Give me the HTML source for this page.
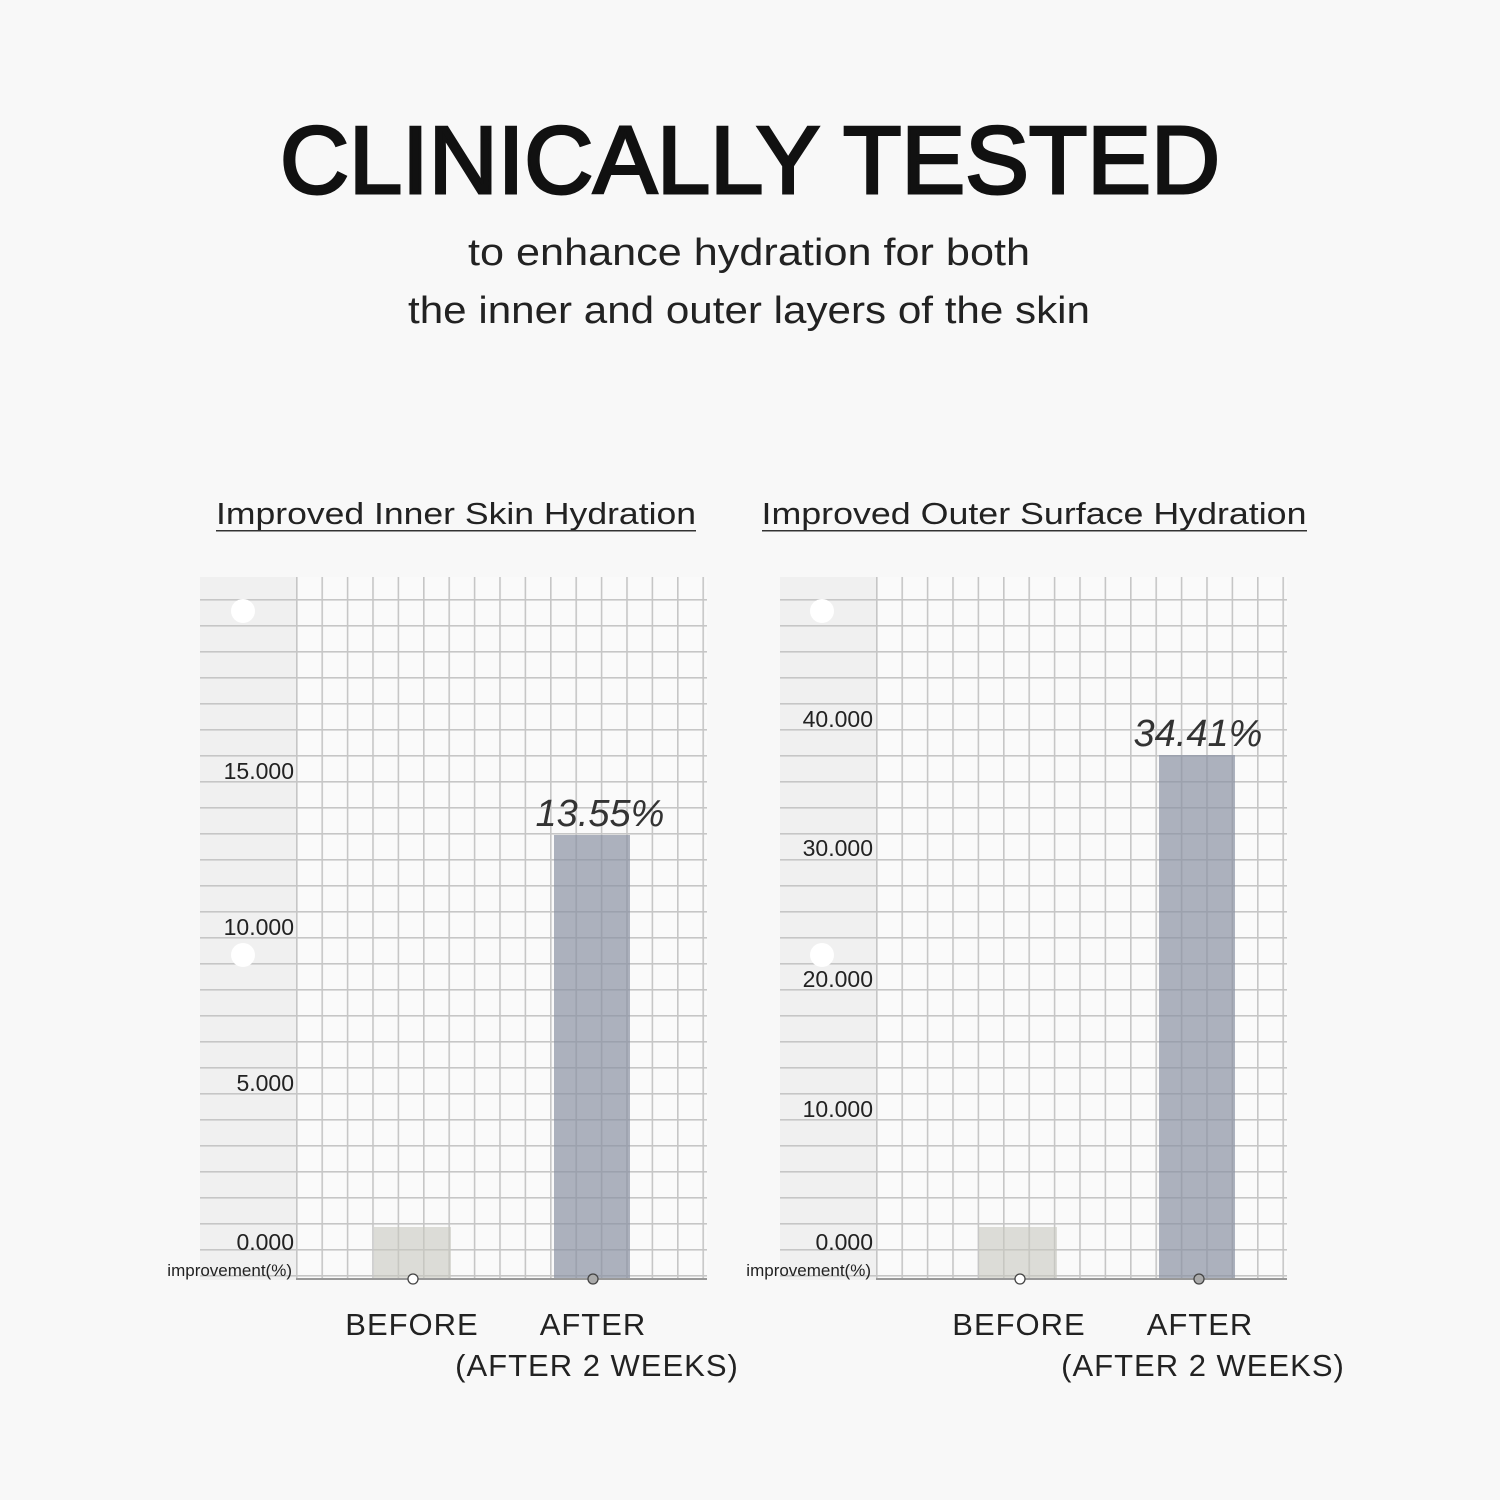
<!DOCTYPE html>
<html><head><meta charset="utf-8"><style>
html,body{margin:0;padding:0;background:#f8f8f8;}
svg{display:block;font-family:"Liberation Sans",sans-serif;}
</style></head><body>
<svg width="1500" height="1500" viewBox="0 0 1500 1500" xmlns="http://www.w3.org/2000/svg">
<defs>
<pattern id="v1" x="296" y="0" width="25.4" height="10" patternUnits="userSpaceOnUse"><rect x="0" y="0" width="1.6" height="10" fill="#c6c6c6"/></pattern>
<pattern id="v2" x="876" y="0" width="25.4" height="10" patternUnits="userSpaceOnUse"><rect x="0" y="0" width="1.6" height="10" fill="#c6c6c6"/></pattern>
<pattern id="h" x="0" y="599" width="10" height="26" patternUnits="userSpaceOnUse"><rect x="0" y="0" width="10" height="1.6" fill="#c6c6c6"/></pattern>
</defs>
<rect width="1500" height="1500" fill="#f8f8f8"/>
<text x="750" y="193" text-anchor="middle" font-size="96" fill="#111" stroke="#111" stroke-width="3" textLength="940" lengthAdjust="spacingAndGlyphs">CLINICALLY TESTED</text>
<text x="749" y="265" text-anchor="middle" font-size="38" fill="#222" textLength="562" lengthAdjust="spacingAndGlyphs">to enhance hydration for both</text>
<text x="749" y="323" text-anchor="middle" font-size="38" fill="#222" textLength="682" lengthAdjust="spacingAndGlyphs">the inner and outer layers of the skin</text>

<text x="456" y="524" text-anchor="middle" font-size="31" fill="#222" textLength="480" lengthAdjust="spacingAndGlyphs">Improved Inner Skin Hydration</text>
<rect x="216" y="530" width="480" height="1.5" fill="#333"/>
<text x="1034" y="524" text-anchor="middle" font-size="31" fill="#222" textLength="545" lengthAdjust="spacingAndGlyphs">Improved Outer Surface Hydration</text>
<rect x="762" y="530" width="545" height="1.5" fill="#333"/>

<!-- chart 1 -->
<rect x="200" y="577" width="507" height="703" fill="#f0f0f0"/>
<rect x="296" y="577" width="411" height="703" fill="#fafafa"/>
<rect x="200" y="577" width="507" height="703" fill="url(#h)"/>
<rect x="296" y="577" width="411" height="703" fill="url(#v1)"/>
<circle cx="243" cy="611" r="12" fill="#fff"/>
<circle cx="243" cy="955" r="12" fill="#fff"/>
<rect x="374" y="1227" width="77" height="52" fill="#c8c8c0" opacity="0.6"/>
<rect x="554" y="835" width="76" height="444" fill="#8a91a2" opacity="0.7"/>
<rect x="296" y="1278" width="411" height="2" fill="#999"/>
<circle cx="413" cy="1279" r="5" fill="#fff" stroke="#444" stroke-width="1.3"/>
<circle cx="593" cy="1279" r="5" fill="#aaa" stroke="#444" stroke-width="1.3"/>
<g font-size="23" fill="#222" text-anchor="end">
<text x="294" y="779">15.000</text><text x="294" y="935">10.000</text><text x="294" y="1091">5.000</text><text x="294" y="1250">0.000</text>
<text x="292" y="1276" font-size="17">improvement(%)</text>
</g>
<text x="600" y="826" text-anchor="middle" font-size="38" font-style="italic" fill="#333">13.55%</text>
<g font-size="31" fill="#222" text-anchor="middle" letter-spacing="1">
<text x="412" y="1335">BEFORE</text><text x="593" y="1335">AFTER</text><text x="597" y="1376">(AFTER 2 WEEKS)</text>
</g>

<!-- chart 2 -->
<rect x="780" y="577" width="507" height="703" fill="#f0f0f0"/>
<rect x="876" y="577" width="411" height="703" fill="#fafafa"/>
<rect x="780" y="577" width="507" height="703" fill="url(#h)"/>
<rect x="876" y="577" width="411" height="703" fill="url(#v2)"/>
<circle cx="822" cy="611" r="12" fill="#fff"/>
<circle cx="822" cy="955" r="12" fill="#fff"/>
<rect x="979" y="1227" width="78" height="52" fill="#c8c8c0" opacity="0.6"/>
<rect x="1159" y="755" width="76" height="524" fill="#8a91a2" opacity="0.7"/>
<rect x="876" y="1278" width="411" height="2" fill="#999"/>
<circle cx="1020" cy="1279" r="5" fill="#fff" stroke="#444" stroke-width="1.3"/>
<circle cx="1199" cy="1279" r="5" fill="#aaa" stroke="#444" stroke-width="1.3"/>
<g font-size="23" fill="#222" text-anchor="end">
<text x="873" y="727">40.000</text><text x="873" y="856">30.000</text><text x="873" y="987">20.000</text><text x="873" y="1117">10.000</text><text x="873" y="1250">0.000</text>
<text x="871" y="1276" font-size="17">improvement(%)</text>
</g>
<text x="1198" y="746" text-anchor="middle" font-size="38" font-style="italic" fill="#333">34.41%</text>
<g font-size="31" fill="#222" text-anchor="middle" letter-spacing="1">
<text x="1019" y="1335">BEFORE</text><text x="1200" y="1335">AFTER</text><text x="1203" y="1376">(AFTER 2 WEEKS)</text>
</g>
</svg>
</body></html>
